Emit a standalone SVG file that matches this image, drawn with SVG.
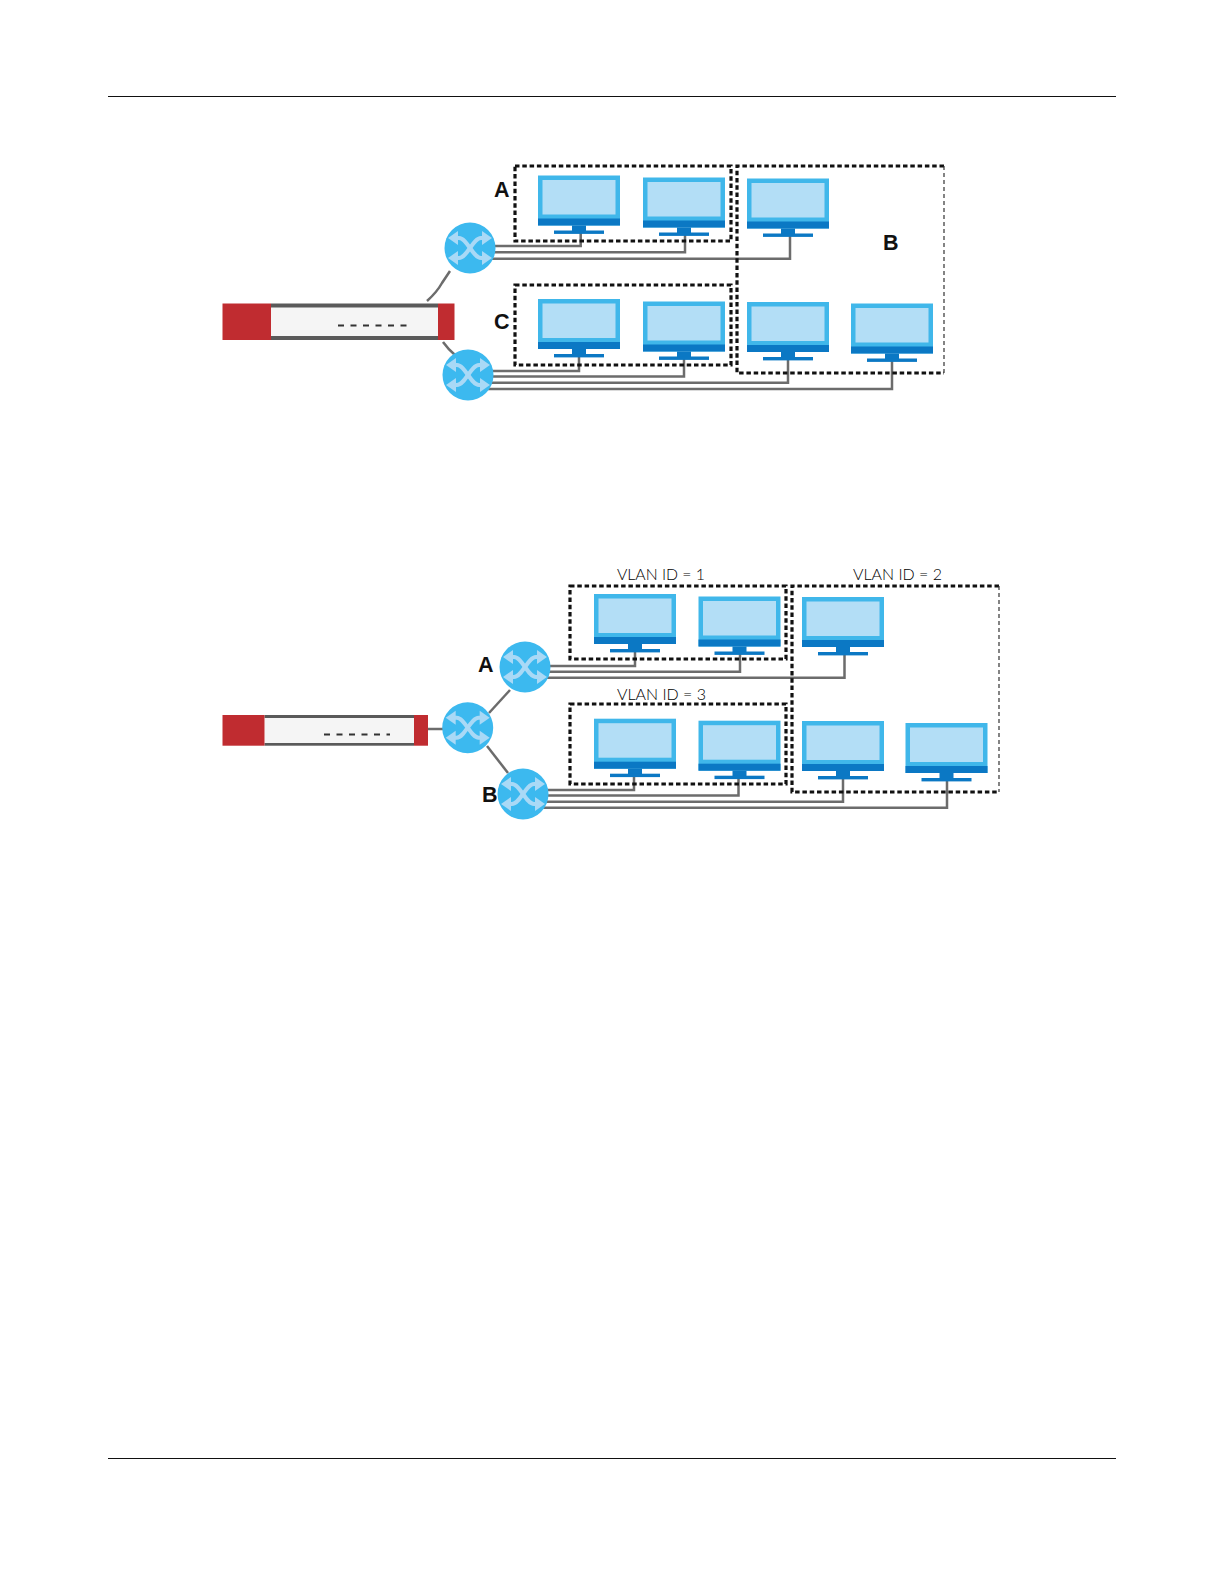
<svg xmlns="http://www.w3.org/2000/svg" xmlns:xlink="http://www.w3.org/1999/xlink" width="1224" height="1584" viewBox="0 0 1224 1584">
<style>
.bg{fill:#fff}
.rule{fill:#111}
.cable{stroke:#6c6c6c;stroke-width:2.500;fill:none}
.box{stroke:#111;stroke-width:3.200;stroke-dasharray:4.500 2.800;fill:none}
.thin{stroke:#333;stroke-width:1.200;stroke-dasharray:4 3;fill:none}
.outer{fill:#40b7ea}.inner{fill:#b3def6}.dark{fill:#0b78c4}
.red{fill:#c02c30}.body{fill:#f5f5f5}.gray{fill:#5a5a5a}
.dots{stroke:#333;stroke-width:2.200;stroke-dasharray:6 6.500;fill:none}
.sw{fill:#3cb9ef}
.arrow{stroke:#a9d9f6;stroke-width:4;fill:none}
.arrowhead{fill:#a9d9f6}
.lab{font-family:"Liberation Sans",sans-serif;font-weight:700;font-size:21.500px;fill:#111}
.vlan{font-family:"Lato","Liberation Sans",sans-serif;font-weight:300;font-size:16.500px;fill:#000}
</style>
<defs>
<g id="mon">
<rect class="outer" width="82" height="50"/>
<rect class="inner" x="4.500" y="4.500" width="73" height="34.500"/>
<rect class="dark" y="43" width="82" height="7"/>
<rect class="dark" x="34" y="50" width="14" height="6"/>
<rect class="dark" x="16" y="55" width="50" height="3.400"/>
</g>
<g id="swi">
<circle class="sw" r="25.500"/>
<path class="arrow" d="M-15 -10H-11C-3 -10 3 10 11 10H15"/>
<path class="arrow" d="M-15 10H-11C-3 10 3 -10 11 -10H15"/>
<path class="arrowhead" d="M12 -17L22 -10L12 -3Z"/>
<path class="arrowhead" d="M12 3L22 10L12 17Z"/>
<path class="arrowhead" d="M-12 -17L-22 -10L-12 -3Z"/>
<path class="arrowhead" d="M-12 3L-22 10L-12 17Z"/>
</g>
</defs>
<rect class="bg" width="1224" height="1584"/>
<rect class="rule" x="108" y="96" width="1008" height="1"/>
<rect class="rule" x="108" y="1458" width="1008" height="1"/>
<g id="connectors">
<path class="cable" d="M427 301Q437 292 442 283L450 271"/>
<path class="cable" d="M443 342Q448 349 455 355"/>
<path class="cable" d="M490 246H580.700V232"/>
<path class="cable" d="M490 252.300H685V234"/>
<path class="cable" d="M490 258.700H790V236"/>
<path class="cable" d="M488 371H579V354"/>
<path class="cable" d="M488 376.500H684V356"/>
<path class="cable" d="M488 382.700H788V357"/>
<path class="cable" d="M488 389H892V358"/>
<path class="cable" d="M428 729H445"/>
<path class="cable" d="M489 713L510 690"/>
<path class="cable" d="M487 746L508 773"/>
<path class="cable" d="M545 666H635V650"/>
<path class="cable" d="M545 671.700H740V652"/>
<path class="cable" d="M545 677.700H844.500V654"/>
<path class="cable" d="M543 790H634V775"/>
<path class="cable" d="M543 795.500H738.500V777"/>
<path class="cable" d="M543 801.700H843V778"/>
<path class="cable" d="M543 807.700H947V779"/>
</g>
<g id="zone-A"><rect class="box" x="515" y="166" width="216" height="75"/></g>
<g id="zone-C"><rect class="box" x="515" y="285" width="216" height="80"/></g>
<g id="zone-B"><path class="box" d="M944 166H737V373H944"/><path class="thin" d="M944 166V373"/></g>
<g id="zone-vlan1"><rect class="box" x="570" y="586" width="216" height="73"/></g>
<g id="zone-vlan3"><rect class="box" x="570" y="704" width="216" height="80"/></g>
<g id="zone-vlan2"><path class="box" d="M999 586H792V792H999"/><path class="thin" d="M999 586V792"/></g>
<g id="firewall-1">
<rect class="body" x="271" y="305" width="167" height="33"/>
<rect class="gray" x="271" y="303.500" width="167" height="4"/>
<rect class="gray" x="271" y="336" width="167" height="4"/>
<rect class="red" x="222.500" y="303.500" width="48.500" height="36.500"/>
<rect class="red" x="438" y="303.500" width="16.500" height="36.500"/>
<path class="dots" d="M338 325.500H410"/>
</g>
<g id="firewall-2">
<rect class="body" x="264.500" y="716" width="149.500" height="29"/>
<rect class="gray" x="264.500" y="715" width="149.500" height="3"/>
<rect class="gray" x="264.500" y="743" width="149.500" height="2.700"/>
<rect class="red" x="222.500" y="715" width="42" height="30.700"/>
<rect class="red" x="414" y="715" width="14" height="30.700"/>
<path class="dots" d="M324 734.500H390"/>
</g>
<g id="switch-1"><use xlink:href="#swi" href="#swi" x="470" y="248"/></g>
<g id="switch-2"><use xlink:href="#swi" href="#swi" x="468" y="375"/></g>
<g id="switch-3"><use xlink:href="#swi" href="#swi" x="467.700" y="727.700"/></g>
<g id="switch-A"><use xlink:href="#swi" href="#swi" x="525" y="667"/></g>
<g id="switch-B"><use xlink:href="#swi" href="#swi" x="523" y="794"/></g>
<g id="monitors-1">
<use xlink:href="#mon" href="#mon" x="538" y="175.500"/>
<use xlink:href="#mon" href="#mon" x="643" y="177.500"/>
<use xlink:href="#mon" href="#mon" x="747" y="178.500"/>
<use xlink:href="#mon" href="#mon" x="538" y="299"/>
<use xlink:href="#mon" href="#mon" x="643" y="301.500"/>
<use xlink:href="#mon" href="#mon" x="747" y="302"/>
<use xlink:href="#mon" href="#mon" x="851" y="303.500"/>
</g>
<g id="monitors-2">
<use xlink:href="#mon" href="#mon" x="594" y="594"/>
<use xlink:href="#mon" href="#mon" x="698.500" y="596.500"/>
<use xlink:href="#mon" href="#mon" x="802" y="597"/>
<use xlink:href="#mon" href="#mon" x="594" y="718.700"/>
<use xlink:href="#mon" href="#mon" x="698.500" y="720.700"/>
<use xlink:href="#mon" href="#mon" x="802" y="721"/>
<use xlink:href="#mon" href="#mon" x="905.500" y="723"/>
</g>
<g id="labels">
<text class="lab" x="494" y="196.500">A</text>
<text class="lab" x="494" y="328.500">C</text>
<text class="lab" x="883" y="250">B</text>
<text class="lab" x="478" y="671.500">A</text>
<text class="lab" x="482" y="802">B</text>
<text class="vlan" x="617" y="580" textLength="88" lengthAdjust="spacingAndGlyphs">VLAN ID = 1</text>
<text class="vlan" x="853" y="580" textLength="89" lengthAdjust="spacingAndGlyphs">VLAN ID = 2</text>
<text class="vlan" x="617" y="700" textLength="89" lengthAdjust="spacingAndGlyphs">VLAN ID = 3</text>
</g>
</svg>
